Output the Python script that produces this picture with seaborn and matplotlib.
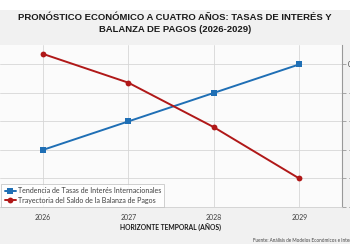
import matplotlib
matplotlib.use("Agg")
import matplotlib.pyplot as plt
import seaborn as sns
import pandas as pd
import numpy as np
from matplotlib.patches import Rectangle

years = [2026, 2027, 2028, 2029]
tasas = [-3.0, -2.0, -1.0, 0.0]
balanza = [0.37, -0.64, -2.2, -4.0]
series_names = ["Tendencia de Tasas de Interés Internacionales",
                "Trayectoria del Saldo de la Balanza de Pagos"]
y_ticks = [0, -1, -2, -3, -4, -5]
y_tick_labels = ["0", "-1", "-2", "-3", "-4", "-5"]
title = "PRONÓSTICO ECONÓMICO A CUATRO AÑOS: TASAS DE INTERÉS Y\nBALANZA DE PAGOS (2026-2029)"
xlabel = "HORIZONTE TEMPORAL (AÑOS)"
source = "Fuente: Análisis de Modelos Económicos e Internacionales"

df = pd.DataFrame({
    "year": years * 2,
    "value": tasas + balanza,
    "serie": [series_names[0]] * 4 + [series_names[1]] * 4,
})

sns.set_theme(style="white")
plt.rcParams["font.family"] = ["Lato", "DejaVu Sans"]

fig = plt.figure(figsize=(3.5, 2.5), dpi=100, facecolor="white")
fig.patches.append(Rectangle((0, 0.025), 1, 0.935, transform=fig.transFigure,
                             facecolor="#f1f1f1", edgecolor="none", zorder=-10))

ax = fig.add_axes([0.0, 0.172, 342 / 350, 0.648])
ax.set_zorder(1)
ax.set_facecolor("#fbfbfb")

colors = {series_names[0]: "#1f6fb5", series_names[1]: "#b01818"}
markers = {series_names[0]: "s", series_names[1]: "o"}
for name in series_names:
    sub = df[df["serie"] == name]
    sns.lineplot(data=sub, x="year", y="value", ax=ax, color=colors[name],
                 marker=markers[name], markersize=4.2, markeredgewidth=0,
                 linewidth=1.4, label=name)

ax.set_xlim(2025.5, 2029.5)
ax.set_ylim(-5, 0.68)
ax.set_xticks(years)
ax.set_xticklabels([str(y) for y in years], fontsize=5, color="#404040")
ax.set_yticks(y_ticks)
ax.set_yticklabels(y_tick_labels, fontsize=5, color="#404040")
ax.yaxis.tick_right()
ax.tick_params(axis="y", which="both", right=True, length=3, width=0.6,
               color="#999999", pad=1.5)
ax.tick_params(axis="x", length=0, pad=5)
ax.grid(True, color="#d6d6d6", linewidth=0.6)
for s in ["top", "left"]:
    ax.spines[s].set_visible(False)
ax.spines["right"].set_color("#999999")
ax.spines["right"].set_linewidth(0.8)
ax.spines["bottom"].set_color("#d0d0d0")
ax.spines["bottom"].set_linewidth(0.6)
ax.set_ylabel("")
ax.set_xlabel(xlabel, fontsize=4.9, fontweight="bold", color="#1a1a1a", labelpad=2)

leg = ax.legend(loc="lower left", bbox_to_anchor=(0.004, 0.0), borderaxespad=0,
                fontsize=5.1, frameon=True, fancybox=False, handlelength=1.6,
                handletextpad=0.25, borderpad=0.45, labelspacing=0.35)
leg.get_frame().set_edgecolor("#bbbbbb")
leg.get_frame().set_linewidth(0.6)
leg.get_frame().set_facecolor("white")
for t in leg.get_texts():
    t.set_color("#404040")

fig.text(0.5, 0.906, title, ha="center", va="center", fontsize=6.8,
         fontweight="bold", family=["Liberation Sans", "DejaVu Sans"],
         color="#1a1a1a", linespacing=1.3)
fig.text(253 / 350, 1 - 240 / 250, source, ha="left", va="center",
         fontsize=3.3, color="#404040")

fig.savefig("out.png", dpi=100, facecolor=fig.get_facecolor())
